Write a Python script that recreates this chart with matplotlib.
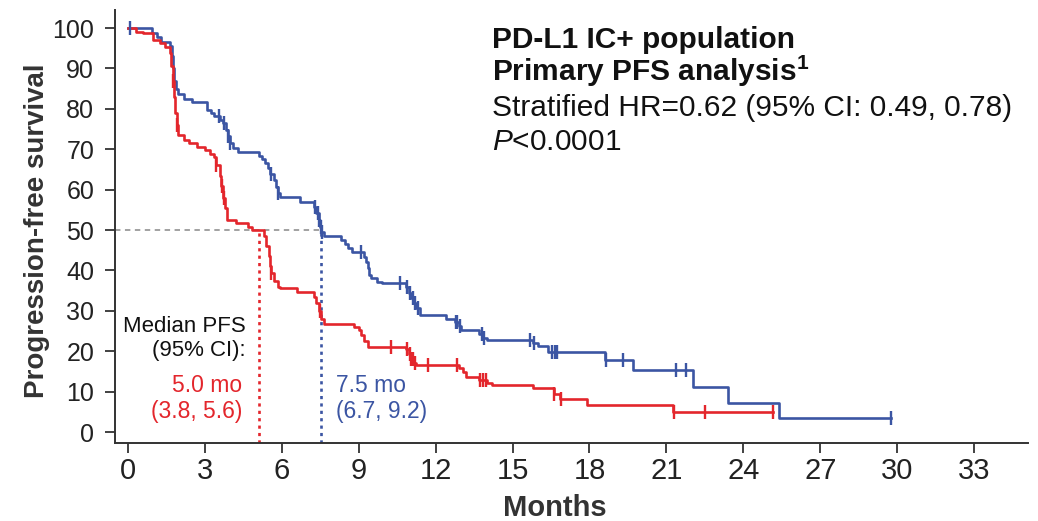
import numpy as np
import matplotlib
matplotlib.use("Agg")
import matplotlib.pyplot as plt

# ---- data ----
blue_t = [0, 0.93, 1.12, 1.3, 1.65, 1.72, 1.76, 1.8, 1.86, 1.95, 2.2, 2.5, 3.1, 3.25, 3.35, 3.6, 3.7,
          3.82, 3.9, 4.0, 4.1, 4.3, 5.1, 5.25, 5.35, 5.45, 5.55, 5.7, 5.78, 5.85, 5.93, 6.7, 7.25,
          7.35, 7.45, 7.5, 7.55, 7.65, 8.3, 8.45, 8.6, 8.75, 9.2, 9.3, 9.35, 9.4, 9.5, 9.7, 9.9,
          10.85, 10.95, 11.05, 11.15, 11.25, 11.4, 12.4, 12.75, 12.9, 13.0, 13.7, 13.85, 14.0,
          15.8, 16.0, 16.4, 18.6, 19.7, 22.05, 23.4, 25.4, 29.75]
blue_s = [100, 98.7, 97.9, 96.6, 95.5, 93, 90, 87, 85, 83.6, 82.4, 81.6, 79.7, 78.9, 78.2, 77.3, 76.5,
          74.8, 73.2, 71.5, 70.3, 69.3, 68.4, 67.6, 66.5, 65.3, 64, 62.5, 60.7, 59.2, 58.2, 57.0, 55.8,
          54.2, 52.5, 50.8, 49.6, 48.5, 47.5, 46.5, 45.5, 44.6, 43.4, 42.0, 40.5, 39.0, 38.1, 37.2, 36.8,
          35.8, 34.5, 33.2, 32.0, 30.6, 29.0, 28.1, 27.2, 26.2, 25.2, 24.3, 23.3, 22.8,
          22.0, 21.2, 19.9, 17.8, 15.3, 11.1, 7.3, 3.5, 3.5]
blue_cens = [0.08, 3.55, 3.75, 3.9, 4.0, 5.6, 5.85, 7.3, 7.4, 7.47, 7.52, 7.58, 9.1, 10.6, 10.9, 11.0,
             11.1, 11.2, 11.3, 12.8, 12.85, 12.95, 13.8, 13.9, 15.7, 15.85, 16.55, 16.65, 16.75,
             18.65, 19.3, 21.36, 21.75, 29.75]

red_t = [0, 0.3, 0.6, 1.0, 1.25, 1.45, 1.65, 1.7, 1.75, 1.8, 1.85, 1.9, 1.95, 2.2, 2.4, 2.7, 3.0,
         3.2, 3.35, 3.45, 3.6, 3.65, 3.7, 3.8, 3.85, 4.2, 4.7, 4.85, 5.3, 5.4, 5.5, 5.55, 5.6, 5.7,
         5.85, 5.95, 6.6, 7.25, 7.35, 7.45, 7.55, 7.65, 8.8, 9.0, 9.1, 9.2, 9.35, 10.85, 10.95,
         11.05, 11.15, 11.25, 12.9, 13.05, 13.2, 13.7, 14.0, 14.2, 15.8, 16.6, 16.85, 17.9, 21.25, 25.15]
red_s = [100, 99.1, 98.7, 97.0, 96.2, 95.4, 93.8, 90.5, 87, 83, 79, 76, 73.5, 72.3, 71.5, 70.6, 69.8,
         68.9, 68.1, 66.1, 63.5, 61, 58, 55.5, 52.5, 51.7, 50.8, 50, 48.5, 46, 43.5, 41, 39.3, 37.5,
         36, 35.6, 34.7, 33.5, 32, 30, 28, 26.7, 26.0, 25.2, 24.0, 22.5, 21.1, 20.5, 19.3,
         18.2, 17.2, 16.6, 15.9, 14.9, 13.7, 12.9, 12.1, 11.6, 10.8, 9.5, 8.1, 6.7, 5.0, 5.0]
red_cens = [1.75, 1.9, 3.45, 3.66, 3.75, 5.6, 7.5, 10.27, 10.9, 11.0, 11.05, 11.1, 11.2, 11.7, 12.85,
            13.75, 13.85, 13.95, 16.6, 16.9, 21.3, 22.5, 25.15]

median_x = [5.1, 7.55]          # vertical dotted median lines (red, blue)
median_y = 50
x_ticks = [0, 3, 6, 9, 12, 15, 18, 21, 24, 27, 30, 33]
y_ticks = [0, 10, 20, 30, 40, 50, 60, 70, 80, 90, 100]

RED = "#e3262c"
BLUE = "#3b55a3"
NARROW = ['Liberation Sans Narrow', 'Liberation Sans']

plt.rcParams['font.family'] = ['Liberation Sans', 'DejaVu Sans']
plt.rcParams['mathtext.fontset'] = 'custom'
plt.rcParams['mathtext.rm'] = 'Liberation Sans'
plt.rcParams['mathtext.it'] = 'Liberation Sans:italic'
plt.rcParams['mathtext.bf'] = 'Liberation Sans:bold'

fig = plt.figure(figsize=(10.38, 5.21), dpi=100)
ax = fig.add_axes([0.1108, 0.1497, 0.8796, 0.8313])


def surv_at(t_arr, s_arr, t):
    idx = np.searchsorted(t_arr, t, side='right') - 1
    return np.asarray(s_arr)[idx]


# median reference lines
ax.plot([-0.5, median_x[1]], [median_y, median_y], color="#9a9a9a", lw=1.3,
        ls=(0, (3, 2.5)), zorder=1)
ax.plot([median_x[0], median_x[0]], [-2.7, median_y], color=RED, lw=1.9,
        ls=(0, (1.2, 1.6)), zorder=1)
ax.plot([median_x[1], median_x[1]], [-2.7, median_y], color=BLUE, lw=1.9,
        ls=(0, (1.2, 1.6)), zorder=1)

# KM curves
ax.step(red_t, red_s, where='post', color=RED, lw=1.9, zorder=3)
ax.step(blue_t, blue_s, where='post', color=BLUE, lw=1.9, zorder=2)

# censor marks
ax.plot(red_cens, surv_at(np.array(red_t), red_s, np.array(red_cens)), ls='none',
        marker='|', ms=10, mew=1.7, color=RED, zorder=4)
ax.plot(blue_cens, surv_at(np.array(blue_t), blue_s, np.array(blue_cens)), ls='none',
        marker='|', ms=10, mew=1.7, color=BLUE, zorder=4)

ax.set_xlim(-0.5, 35.1)
ax.set_ylim(-2.7, 104.5)
ax.set_xticks(x_ticks)
ax.set_yticks(y_ticks)
ax.set_xticklabels([str(v) for v in x_ticks], fontsize=21, family=NARROW)
ax.set_yticklabels([str(v) for v in y_ticks], fontsize=18)
ax.tick_params(direction='out', length=7, width=1.3, color="#333333",
               labelcolor="#222222")
ax.tick_params(axis='y', pad=8)
ax.tick_params(axis='x', pad=3)
for side in ['top', 'right']:
    ax.spines[side].set_visible(False)
for side in ['left', 'bottom']:
    ax.spines[side].set_linewidth(1.4)
    ax.spines[side].set_color("#333333")

ax.set_ylabel("Progression-free survival", fontsize=20, fontweight='bold',
              color="#333333")
ax.yaxis.set_label_coords(-0.071, 0.49)
ax.set_xlabel("Months", fontsize=21, fontweight='bold', color="#333333", family=NARROW)
ax.xaxis.set_label_coords(0.482, -0.118)

# annotation block top-right
tx = 0.474
fig.text(tx, 0.923, "PD-L1 IC+ population", fontsize=21.5, fontweight='bold',
         color="#111111", va='center')
fig.text(tx, 0.862, r"Primary PFS analysis$^\mathbf{1}$", fontsize=21.5, fontweight='bold',
         color="#111111", va='center')
fig.text(tx, 0.793, "Stratified HR=0.62 (95% CI: 0.49, 0.78)", fontsize=21.5,
         color="#111111", va='center')
fig.text(tx, 0.727, r"$P$<0.0001", fontsize=21.5, color="#111111", va='center')

# median annotations
ax.text(4.6, 23.1, "Median PFS\n(95% CI):", fontsize=16, ha='right', va='center',
        color="#111111", linespacing=1.2)
ax.text(4.45, 8.4, "5.0 mo\n(3.8, 5.6)", fontsize=16.5, ha='right', va='center',
        color=RED, linespacing=1.15)
ax.text(8.1, 8.4, "7.5 mo\n(6.7, 9.2)", fontsize=16.5, ha='left', va='center',
        color=BLUE, linespacing=1.15)

fig.savefig("out.png", dpi=100)
